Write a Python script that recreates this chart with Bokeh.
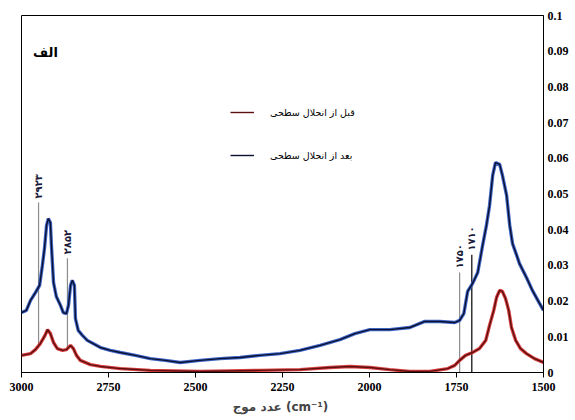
from bokeh.plotting import figure
from bokeh.models import Range1d, FixedTicker, Legend, LegendItem, Label, ColumnDataSource
from bokeh.core.properties import value
from bokeh.embed import file_html
from bokeh.resources import INLINE

# ---- data ----
wn_after = [3000, 2986, 2974, 2960, 2948, 2940, 2934, 2928, 2923, 2917, 2914, 2908, 2900,
            2888, 2880, 2871, 2865, 2859, 2854, 2848, 2845, 2837, 2825, 2811, 2794, 2773,
            2745, 2716, 2673, 2630, 2587, 2544, 2487, 2429, 2372, 2315, 2257, 2200, 2142,
            2085, 2042, 1999, 1942, 1884, 1841, 1798, 1755, 1741, 1729, 1718, 1704, 1689,
            1675, 1664, 1655, 1646, 1638, 1626, 1618, 1606, 1597, 1589, 1577, 1569, 1549,
            1532, 1511, 1500]
abs_after = [0.0168, 0.0174, 0.0202, 0.0224, 0.0244, 0.0300, 0.0347, 0.0412, 0.0431, 0.0420,
             0.0356, 0.0252, 0.0213, 0.0188, 0.0168, 0.0165, 0.0188, 0.0244, 0.0258, 0.0244,
             0.0151, 0.0118, 0.0104, 0.0090, 0.0081, 0.0070, 0.0062, 0.0056, 0.0048, 0.0039,
             0.0034, 0.0028, 0.0034, 0.0039, 0.0042, 0.0048, 0.0053, 0.0062, 0.0076, 0.0092,
             0.0109, 0.0120, 0.0120, 0.0126, 0.0143, 0.0143, 0.0140, 0.0146, 0.0165, 0.0227,
             0.0249, 0.0280, 0.0356, 0.0412, 0.0468, 0.0552, 0.0588, 0.0583, 0.0552, 0.0496,
             0.0412, 0.0361, 0.0328, 0.0305, 0.0266, 0.0230, 0.0193, 0.0174]

wn_before = [3000, 2974, 2960, 2946, 2934, 2925, 2917, 2908, 2897, 2882, 2871, 2859, 2851,
             2842, 2831, 2802, 2773, 2716, 2630, 2487, 2315, 2200, 2114, 2056, 1999, 1942,
             1884, 1827, 1775, 1755, 1741, 1724, 1704, 1684, 1666, 1655, 1643, 1635, 1626,
             1618, 1609, 1600, 1592, 1580, 1566, 1549, 1526, 1500]
abs_before = [0.0048, 0.0053, 0.0064, 0.0081, 0.0101, 0.0120, 0.0109, 0.0084, 0.0067, 0.0062,
              0.0064, 0.0076, 0.0067, 0.0048, 0.0034, 0.0022, 0.0017, 0.0011, 0.0006, 0.0003,
              0.0006, 0.0008, 0.0014, 0.0017, 0.0014, 0.0008, 0.0003, 0.0003, 0.0011, 0.0020,
              0.0034, 0.0048, 0.0056, 0.0067, 0.0090, 0.0132, 0.0174, 0.0210, 0.0230, 0.0227,
              0.0207, 0.0174, 0.0126, 0.0090, 0.0067, 0.0053, 0.0039, 0.0028]

ann_wn = [2951, 2868, 1741, 1706]
ann_top = [0.0476, 0.0320, 0.0280, 0.0330]
ann_bottom = [0.0076, 0.0062, 0.0, 0.0]
ann_labels = ["۲۹۲۳", "۲۸۵۲", "۱۷۵۰", "۱۷۱۰"]
ann_colors = ["#8c8c8c", "#8c8c8c", "#8c8c8c", "#000000"]

x_ticks = [3000, 2750, 2500, 2250, 2000, 1750, 1500]
y_ticks = [0, 0.01, 0.02, 0.03, 0.04, 0.05, 0.06, 0.07, 0.08, 0.09, 0.1]
y_tick_labels = ["0", "0.01", "0.02", "0.03", "0.04", "0.05", "0.06", "0.07", "0.08", "0.09", "0.1"]

legend_labels = ["قبل از انحلال سطحی", "بعد از انحلال سطحی"]
panel_label = "الف"
x_label = "عدد موج  (cm⁻¹)"

# ---- figure ----
p = figure(width=571, height=416, output_backend="svg", toolbar_location=None,
           x_range=Range1d(3000, 1500), y_range=Range1d(0, 0.1),
           y_axis_location="right",
           min_border_left=21, min_border_top=15, min_border_right=27, min_border_bottom=44)
p.grid.visible = False
p.outline_line_color = "black"
p.outline_line_width = 1
p.background_fill_color = "white"
p.border_fill_color = "white"

serif = "Liberation Serif"

xa = p.xaxis[0]
xa.ticker = FixedTicker(ticks=x_ticks)
xa.major_tick_out = 5
xa.major_tick_in = 0
xa.minor_tick_out = 0
xa.minor_tick_in = 0
xa.axis_line_color = "black"
xa.major_label_text_font = serif
xa.major_label_text_font_style = "bold"
xa.major_label_text_font_size = "12px"
xa.major_label_text_color = "black"
xa.major_label_standoff = 5
xa.axis_label = x_label
xa.axis_label_text_font = "DejaVu Sans"
xa.axis_label_text_font_style = "bold"
xa.axis_label_text_font_size = "12px"
xa.axis_label_standoff = 6

ya = p.yaxis[0]
ya.ticker = FixedTicker(ticks=y_ticks)
ya.major_label_overrides = {t: l for t, l in zip(y_ticks, y_tick_labels)}
ya.major_tick_out = 0
ya.major_tick_in = 0
ya.minor_tick_out = 0
ya.minor_tick_in = 0
ya.axis_line_color = "black"
ya.major_label_text_font = serif
ya.major_label_text_font_style = "bold"
ya.major_label_text_font_size = "12px"
ya.major_label_text_color = "black"
ya.major_label_standoff = 4

# annotation lines
ann_src = ColumnDataSource(dict(x=ann_wn, y0=ann_bottom, y1=ann_top, lab=ann_labels, c=ann_colors))
p.segment(x0="x", y0="y0", x1="x", y1="y1", color="c", line_width=1.2, source=ann_src)

# curves: coloured halo with a dark core, as in the reference image
p.line(wn_before, abs_before, color="#d42a2a", line_width=3.4, line_alpha=0.9)
r_before = p.line(wn_before, abs_before, color="#5c0f0f", line_width=1.4)
p.line(wn_after, abs_after, color="#2a55c0", line_width=3.4, line_alpha=0.9)
r_after = p.line(wn_after, abs_after, color="#0b1030", line_width=1.4)

# annotation labels
p.text(x="x", y="y1", text="lab", source=ann_src, angle=1.5708,
       text_align="left", text_baseline="middle", y_offset=-4,
       text_font=value("DejaVu Sans"), text_font_style="bold",
       text_font_size="10px", text_color="#1a1a3a")

# panel label
p.add_layout(Label(x=2931, y=0.0896, text=panel_label, text_align="center",
                   text_baseline="middle", text_font="DejaVu Sans",
                   text_font_style="bold", text_font_size="13px", text_color="black"))

legend = Legend(items=[LegendItem(label=legend_labels[0], renderers=[r_before]),
                       LegendItem(label=legend_labels[1], renderers=[r_after])],
                location=(209, 207), orientation="vertical",
                glyph_width=24, glyph_height=20, label_height=20, spacing=23,
                label_standoff=16, padding=0, margin=0,
                border_line_alpha=0, background_fill_alpha=0,
                label_text_font="DejaVu Sans", label_text_font_size="9.5px",
                label_text_color="black")
p.add_layout(legend)

open("out.html", "w").write(file_html(p, INLINE))
